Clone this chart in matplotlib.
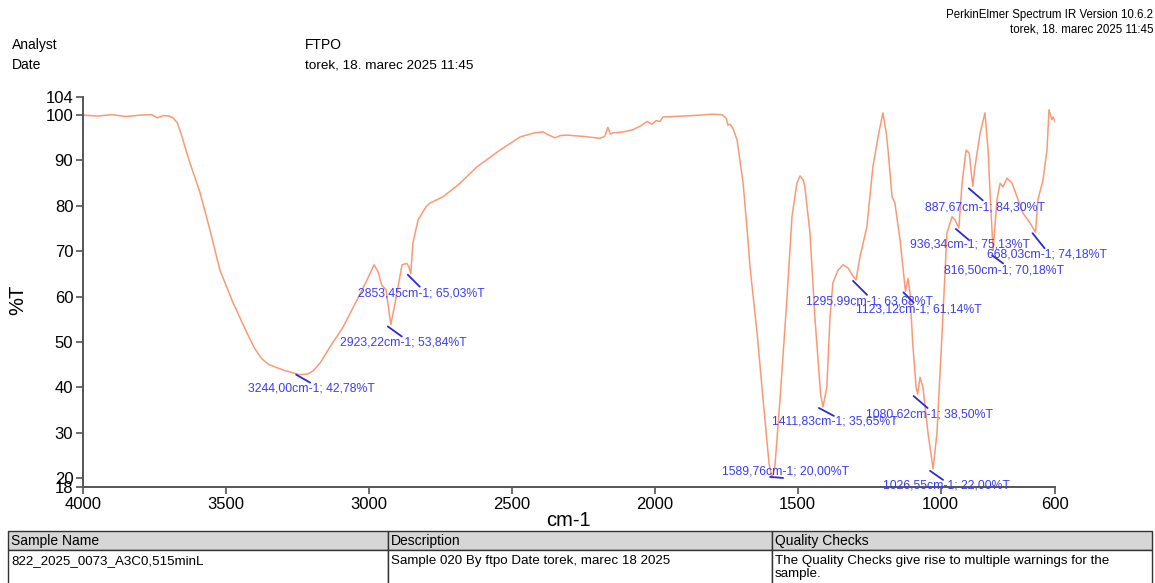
import matplotlib.pyplot as plt
from matplotlib.patches import Rectangle
from matplotlib.transforms import offset_copy

plt.rcParams['font.family'] = ['Liberation Sans', 'DejaVu Sans']

# spectrum (wavenumber, %T)
wavenumber = [4000, 3950, 3900, 3850, 3800, 3760, 3740, 3720, 3700, 3685, 3670, 3655, 3640, 3626,
              3591, 3556, 3521, 3475, 3426, 3400, 3375, 3350, 3300, 3244, 3215, 3195, 3170, 3136, 3090,
              3042, 3007, 2982, 2968, 2955, 2940, 2923.22, 2910, 2902, 2884, 2867, 2860,
              2853.45, 2846, 2828, 2800, 2786, 2741, 2700, 2681, 2622, 2541, 2471, 2420,
              2391, 2370, 2349, 2330, 2307, 2250, 2192, 2175, 2164, 2155, 2146, 2110, 2076,
              2050, 2027, 2010, 1995, 1982, 1971, 1900, 1842, 1800, 1765, 1750, 1744, 1736,
              1726, 1712, 1691, 1674, 1667, 1642, 1621, 1600, 1589.76, 1580, 1562, 1538,
              1520, 1503, 1492, 1480, 1475, 1457, 1440, 1420, 1411.83, 1398, 1387, 1377,
              1359, 1341, 1324, 1310, 1295.99, 1282, 1258, 1237, 1219, 1202, 1190, 1184,
              1170, 1160, 1142, 1123.12, 1114, 1107, 1098, 1086, 1080.62, 1072, 1062, 1055,
              1044, 1026.55, 1013, 995, 978, 960, 950, 936.34, 925, 911, 900, 887.67, 880,
              862, 845, 834, 825, 816.5, 803, 792, 782, 768, 750, 733, 712, 687, 668.03,
              660, 642, 628, 621, 611, 607, 600]
transmittance = [100.0, 99.8, 100.1, 99.7, 100.0, 100.1, 99.4, 99.9, 99.8, 99.4, 98.3, 95.5, 92.3, 89.5,
                 83.0, 74.7, 65.8, 58.6, 51.9, 48.6, 46.3, 45.0, 43.8, 42.78, 42.9, 43.6, 45.4, 48.9, 53.3,
                 59.2, 63.6, 67.0, 65.5, 62.5, 61.5, 53.84, 58.0, 60.8, 67.0, 67.3, 66.5,
                 65.03, 71.8, 76.9, 79.8, 80.6, 82.0, 84.0, 85.0, 88.6, 92.3, 95.2, 96.1,
                 96.3, 95.6, 95.0, 95.5, 95.6, 95.3, 94.9, 95.3, 97.3, 95.8, 96.1, 96.3, 96.8,
                 97.6, 98.6, 98.0, 98.8, 98.6, 99.6, 99.8, 100.0, 100.2, 100.1, 99.3, 97.8, 98.0,
                 97.0, 94.5, 85.0, 72.5, 66.6, 51.9, 37.2, 23.0, 20.0, 22.4, 37.2, 59.2,
                 77.6, 85.0, 86.6, 85.6, 84.2, 74.0, 55.5, 38.5, 35.65, 40.0, 55.5, 63.0,
                 65.8, 67.0, 66.3, 64.8, 63.68, 68.8, 75.4, 88.6, 95.2, 100.5, 96.0, 92.3,
                 82.0, 80.6, 72.5, 61.14, 64.0, 60.7, 50.0, 40.0, 38.5, 42.2, 40.0, 36.0,
                 29.8, 22.0, 29.8, 51.9, 74.0, 77.6, 76.9, 75.13, 85.0, 92.3, 91.6, 84.3, 88.6,
                 96.0, 100.5, 92.3, 80.0, 70.18, 81.3, 85.0, 84.2, 86.1, 85.0, 82.0, 78.4, 76.2, 74.18,
                 81.3, 85.7, 92.3, 101.2, 99.0, 99.6, 98.6]

# labelled peaks
peak_wn = [3244.00, 2923.22, 2853.45, 1589.76, 1411.83, 1295.99, 1123.12,
           1080.62, 1026.55, 936.34, 887.67, 816.50, 668.03]
peak_T = [42.78, 53.84, 65.03, 20.00, 35.65, 63.68, 61.14,
          38.50, 22.00, 75.13, 84.30, 70.18, 74.18]

x_ticks = [4000, 3500, 3000, 2500, 2000, 1500, 1000, 600]
y_ticks = [18, 20, 30, 40, 50, 60, 70, 80, 90, 100, 104]

# label leader offsets in pixels (start, end, text centre), y pointing down
line_start = [(-3, 0), (-3, 2), (-3, 1), (-2, -1), (-4, 1), (-3, 1), (-2, 1),
              (-4, 2), (-3, 2), (-3, 1), (-4, 2), (-1, 5), (-3, 1)]
line_end = [(11, 8), (11, 12), (9, 13), (11, 0), (11, 9), (11, 15), (8, 11),
            (10, 14), (10, 11), (10, 12), (10, 14), (10, 13), (9, 16)]
text_pos = [(12, 14), (12, 18), (11, 20), (13, -6), (12, 15), (13, 22), (13, 18),
            (12, 20), (13, 17), (11, 17), (12, 21), (11, 20), (11, 22)]

W, H = 1155, 583
fig = plt.figure(figsize=(W / 100, H / 100), dpi=100)
ax = fig.add_axes([83 / W, 1 - 487 / H, 972 / W, 390 / H])

ax.plot(wavenumber, transmittance, color='#fa9a75', lw=1.1)
ax.set_xlim(4000, 600)
ax.set_ylim(18, 104)
ax.set_xticks(x_ticks)
ax.set_yticks(y_ticks)
ax.tick_params(labelsize=12, length=5, width=1.2, color='#555555', pad=2)
for s in ['top', 'right']:
    ax.spines[s].set_visible(False)
for s in ['left', 'bottom']:
    ax.spines[s].set_color('#555555')
    ax.spines[s].set_linewidth(1.4)

def fmt(v):
    return f"{v:.2f}".replace('.', ',')

for i in range(len(peak_wn)):
    sx, sy = line_start[i]
    ex, ey = line_end[i]
    tx, ty = text_pos[i]
    tr = offset_copy(ax.transData, fig=fig, x=sx, y=-sy, units='dots')
    ax.annotate('', xy=(peak_wn[i], peak_T[i]), xycoords=tr,
                xytext=(ex - sx, -(ey - sy)), textcoords='offset pixels',
                arrowprops=dict(arrowstyle='-', color='#2b2bd0', lw=1.3,
                                shrinkA=0, shrinkB=0), annotation_clip=False)
    ax.annotate(fmt(peak_wn[i]) + 'cm-1; ' + fmt(peak_T[i]) + '%T',
                xy=(peak_wn[i], peak_T[i]), xytext=(tx, -ty),
                textcoords='offset pixels', ha='center', va='center',
                fontsize=8.8, color='#3c3cf5', annotation_clip=False, zorder=5)

fig.text(18 / W, 1 - 300 / H, '%T', rotation=90, fontsize=14.5, ha='center', va='center')
fig.text(568 / W, 1 - 520 / H, 'cm-1', fontsize=14.5, ha='center', va='center')

# header
fig.text(12 / W, 1 - 45 / H, 'Analyst', fontsize=10, va='center')
fig.text(12 / W, 1 - 65 / H, 'Date', fontsize=10, va='center')
fig.text(305 / W, 1 - 45 / H, 'FTPO', fontsize=10, va='center')
fig.text(305 / W, 1 - 65 / H, 'torek, 18. marec 2025 11:45', fontsize=9.7, va='center')
fig.text(1153 / W, 1 - 15 / H, 'PerkinElmer Spectrum IR Version 10.6.2', fontsize=8.3,
         ha='right', va='center')
fig.text(1153 / W, 1 - 29 / H, 'torek, 18. marec 2025 11:45', fontsize=8.3,
         ha='right', va='center')

# table at the bottom
col_x = [8, 388, 772, 1152]
headers = ['Sample Name', 'Description', 'Quality Checks']
row_vals = ['822_2025_0073_A3C0,515minL', 'Sample 020 By ftpo Date torek, marec 18 2025',
            'The Quality Checks give rise to multiple warnings for the\nsample.']
for j in range(3):
    x0, x1 = col_x[j], col_x[j + 1]
    fig.add_artist(Rectangle((x0 / W, 1 - 550 / H), (x1 - x0) / W, 19 / H,
                             transform=fig.transFigure, facecolor='#d6d6d6',
                             edgecolor='#333333', lw=1))
    fig.add_artist(Rectangle((x0 / W, 1 - 590 / H), (x1 - x0) / W, 40 / H,
                             transform=fig.transFigure, facecolor='white',
                             edgecolor='#333333', lw=1))
    fig.text((x0 + 3) / W, 1 - 541 / H, headers[j], fontsize=10, va='center')
    fig.text((x0 + 3) / W, 1 - 555 / H, row_vals[j], fontsize=9.6, va='top',
             linespacing=1.15)

fig.savefig('out.png', dpi=100)
